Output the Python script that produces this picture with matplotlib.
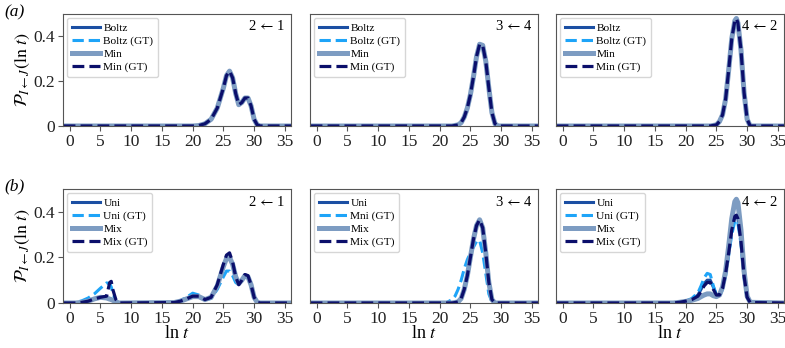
import numpy as np
import matplotlib
matplotlib.use('Agg')
from matplotlib import pyplot as plt

plt.rcParams['font.family'] = ['Liberation Serif', 'DejaVu Serif']
plt.rcParams['mathtext.fontset'] = 'stix'

# ---- data (ln t vs probability density) ----
# top row (a): all four curves coincide in each panel
lnt_a21 = [-1, 20, 21, 22, 23, 24, 25, 25.5, 26, 26.5, 27, 27.5, 28, 28.5, 29, 29.5, 30, 30.5, 31, 36]
p_a21 = [0, 0, 0.002, 0.01, 0.03, 0.08, 0.17, 0.225, 0.245, 0.215, 0.145, 0.095, 0.105, 0.125, 0.125, 0.09, 0.03, 0.005, 0, 0]

lnt_a34 = [-1, 22, 23, 23.5, 24, 24.5, 25, 25.5, 26, 26.5, 27, 27.5, 28, 28.5, 29, 29.5, 36]
p_a34 = [0, 0, 0.005, 0.015, 0.04, 0.08, 0.14, 0.22, 0.31, 0.365, 0.36, 0.29, 0.17, 0.06, 0.01, 0, 0]

lnt_a42 = [-1, 24, 25, 25.5, 26, 26.5, 27, 27.5, 28, 28.25, 28.5, 29, 29.5, 30, 30.5, 36]
p_a42 = [0, 0, 0.005, 0.02, 0.05, 0.12, 0.25, 0.39, 0.47, 0.48, 0.46, 0.34, 0.15, 0.03, 0, 0]

# bottom row (b)
lnt_b21 = [-1, 0, 1, 2, 3, 4, 5, 6, 6.5, 6.75, 7, 7.5, 8, 17, 18, 19, 20, 21, 22, 23, 24, 25,
           25.5, 26, 26.5, 27, 27.5, 28, 28.5, 29, 29.5, 30, 30.5, 31, 36]
uni_b21 = [0, 0, 0, 0.003, 0.008, 0.018, 0.025, 0.022, 0.017, 0.015, 0.012, 0.005, 0, 0.002, 0.008, 0.018,
           0.028, 0.028, 0.015, 0.025, 0.075, 0.16, 0.195, 0.2, 0.17, 0.115, 0.085, 0.1, 0.12, 0.115,
           0.08, 0.025, 0.003, 0, 0]
uni_gt_b21 = [0, 0, 0.002, 0.01, 0.022, 0.04, 0.065, 0.088, 0.085, 0.07, 0.045, 0.01, 0, 0.002, 0.01, 0.025,
              0.043, 0.035, 0.015, 0.02, 0.06, 0.115, 0.14, 0.14, 0.12, 0.09, 0.08, 0.1, 0.115, 0.11,
              0.075, 0.025, 0.003, 0, 0]
mix_b21 = [0, 0, 0, 0.003, 0.008, 0.018, 0.025, 0.022, 0.017, 0.015, 0.012, 0.005, 0, 0.002, 0.008, 0.018,
           0.028, 0.028, 0.015, 0.025, 0.075, 0.16, 0.195, 0.2, 0.17, 0.115, 0.085, 0.1, 0.12, 0.115,
           0.08, 0.025, 0.003, 0, 0]
mix_gt_b21 = [0, 0, 0, 0.003, 0.008, 0.018, 0.025, 0.03, 0.09, 0.095, 0.06, 0.015, 0, 0.002, 0.008, 0.018,
              0.03, 0.03, 0.015, 0.025, 0.08, 0.17, 0.21, 0.22, 0.18, 0.115, 0.08, 0.1, 0.125, 0.12,
              0.08, 0.025, 0.003, 0, 0]

lnt_b34 = [-1, 21, 22, 22.5, 23, 23.5, 24, 24.5, 25, 25.5, 26, 26.5, 27, 27.5, 28, 28.5, 29, 36]
uni_b34 = [0, 0, 0, 0.002, 0.005, 0.02, 0.06, 0.12, 0.2, 0.28, 0.34, 0.365, 0.33, 0.22, 0.09, 0.015, 0, 0]
uni_gt_b34 = [0, 0, 0.015, 0.03, 0.06, 0.1, 0.15, 0.19, 0.22, 0.245, 0.27, 0.275, 0.22, 0.13, 0.04, 0.005, 0, 0]
mix_b34 = [0, 0, 0, 0.002, 0.005, 0.02, 0.06, 0.12, 0.2, 0.28, 0.34, 0.365, 0.33, 0.22, 0.09, 0.015, 0, 0]
mix_gt_b34 = [0, 0, 0, 0.002, 0.005, 0.02, 0.06, 0.12, 0.2, 0.28, 0.34, 0.365, 0.33, 0.22, 0.09, 0.015, 0, 0]

lnt_b42 = [-1, 18, 19, 20, 21, 22, 22.5, 23, 23.5, 24, 24.5, 25, 25.5, 26, 26.5, 27, 27.5, 28,
           28.25, 28.5, 29, 29.5, 30, 30.5, 36]
uni_b42 = [0, 0, 0.003, 0.008, 0.016, 0.035, 0.06, 0.085, 0.1, 0.1, 0.07, 0.035, 0.035, 0.065, 0.13,
           0.22, 0.32, 0.38, 0.385, 0.37, 0.27, 0.12, 0.025, 0.002, 0]
uni_gt_b42 = [0, 0, 0.003, 0.008, 0.02, 0.045, 0.075, 0.11, 0.13, 0.125, 0.075, 0.035, 0.03, 0.06, 0.12,
              0.21, 0.3, 0.36, 0.365, 0.35, 0.26, 0.11, 0.02, 0.002, 0]
mix_b42 = [0, 0, 0.003, 0.007, 0.012, 0.02, 0.028, 0.035, 0.04, 0.04, 0.032, 0.028, 0.035, 0.07, 0.14,
           0.25, 0.37, 0.445, 0.455, 0.44, 0.32, 0.14, 0.03, 0.003, 0]
mix_gt_b42 = [0, 0, 0.003, 0.008, 0.015, 0.03, 0.05, 0.075, 0.09, 0.09, 0.06, 0.035, 0.035, 0.065, 0.13,
              0.22, 0.32, 0.38, 0.385, 0.37, 0.27, 0.12, 0.025, 0.002, 0]

transitions = [r'2$\,\leftarrow\,$1', r'3$\,\leftarrow\,$4', r'4$\,\leftarrow\,$2']
labels_a = ['Boltz', 'Boltz (GT)', 'Min', 'Min (GT)']
labels_b = [['Uni', 'Uni (GT)', 'Mix', 'Mix (GT)'],
            ['Uni', 'Mni (GT)', 'Mix', 'Mix (GT)'],
            ['Uni', 'Uni (GT)', 'Mix', 'Mix (GT)']]
xticks = [0, 5, 10, 15, 20, 25, 30, 35]

# styles for the four curves: (colour, linestyle, linewidth)
STYLES = [('#1b4fa3', '-', 2.2), ('#1ea4f8', '--', 2.2),
          ('#7d9cc2', '-', 3.6), ('#0b0f6b', '--', 2.3)]

top_data = [(lnt_a21, [p_a21] * 4), (lnt_a34, [p_a34] * 4), (lnt_a42, [p_a42] * 4)]
bot_data = [(lnt_b21, [uni_b21, uni_gt_b21, mix_b21, mix_gt_b21]),
            (lnt_b34, [uni_b34, uni_gt_b34, mix_b34, mix_gt_b34]),
            (lnt_b42, [uni_b42, uni_gt_b42, mix_b42, mix_gt_b42])]

fig = plt.figure(figsize=(7.85, 3.48), dpi=100)
lefts = [63 / 785, 310 / 785, 556 / 785]
width = 228 / 785
rows = [(1 - 126 / 348, 112 / 348), (1 - 303 / 348, 114 / 348)]


def draw_panel(ax, x, ys, labels, trans, first_col, bottom_row):
    for y, lab, (col, ls, lw) in zip(ys, labels, STYLES):
        ax.plot(x, y, color=col, ls=ls, lw=lw, label=lab)
    ax.set_xlim(-1.1, 36)
    ax.set_ylim(0, 0.5)
    ax.set_xticks(xticks)
    ax.tick_params(labelsize=12.5, colors='#222222', length=3.5, color='#555555', pad=2)
    for s in ax.spines.values():
        s.set_color('#555555')
    if first_col:
        ax.set_yticks([0, 0.2, 0.4])
        ax.set_yticklabels(['0', '0.2', '0.4'])
        ax.set_ylabel(r'$\mathcal{P}_{I\leftarrow J}(\ln\,t)$', fontsize=13, labelpad=1)
    else:
        ax.set_yticks([])
    if bottom_row:
        ax.set_xlabel(r'ln $t$', fontsize=13, labelpad=-1)
    ax.text(0.975, 0.89, trans, transform=ax.transAxes, ha='right', va='center', fontsize=10.5)
    ax.legend(loc='upper left', fontsize=8.2, handlelength=2.5, labelspacing=0.28,
              borderaxespad=0.35, handletextpad=0.3, borderpad=0.4, edgecolor='#cccccc')


for r, (bottom, height) in enumerate(rows):
    for c in range(3):
        ax = fig.add_axes([lefts[c], bottom, width, height])
        if r == 0:
            x, ys = top_data[c]
            labs = labels_a
        else:
            x, ys = bot_data[c]
            labs = labels_b[c]
        draw_panel(ax, x, ys, labs, transitions[c], c == 0, r == 1)

fig.text(4 / 785, 1 - 12 / 348, '(a)', fontsize=12.5, style='italic', va='center')
fig.text(4 / 785, 1 - 186 / 348, '(b)', fontsize=12.5, style='italic', va='center')

fig.savefig('out.png', dpi=100)
